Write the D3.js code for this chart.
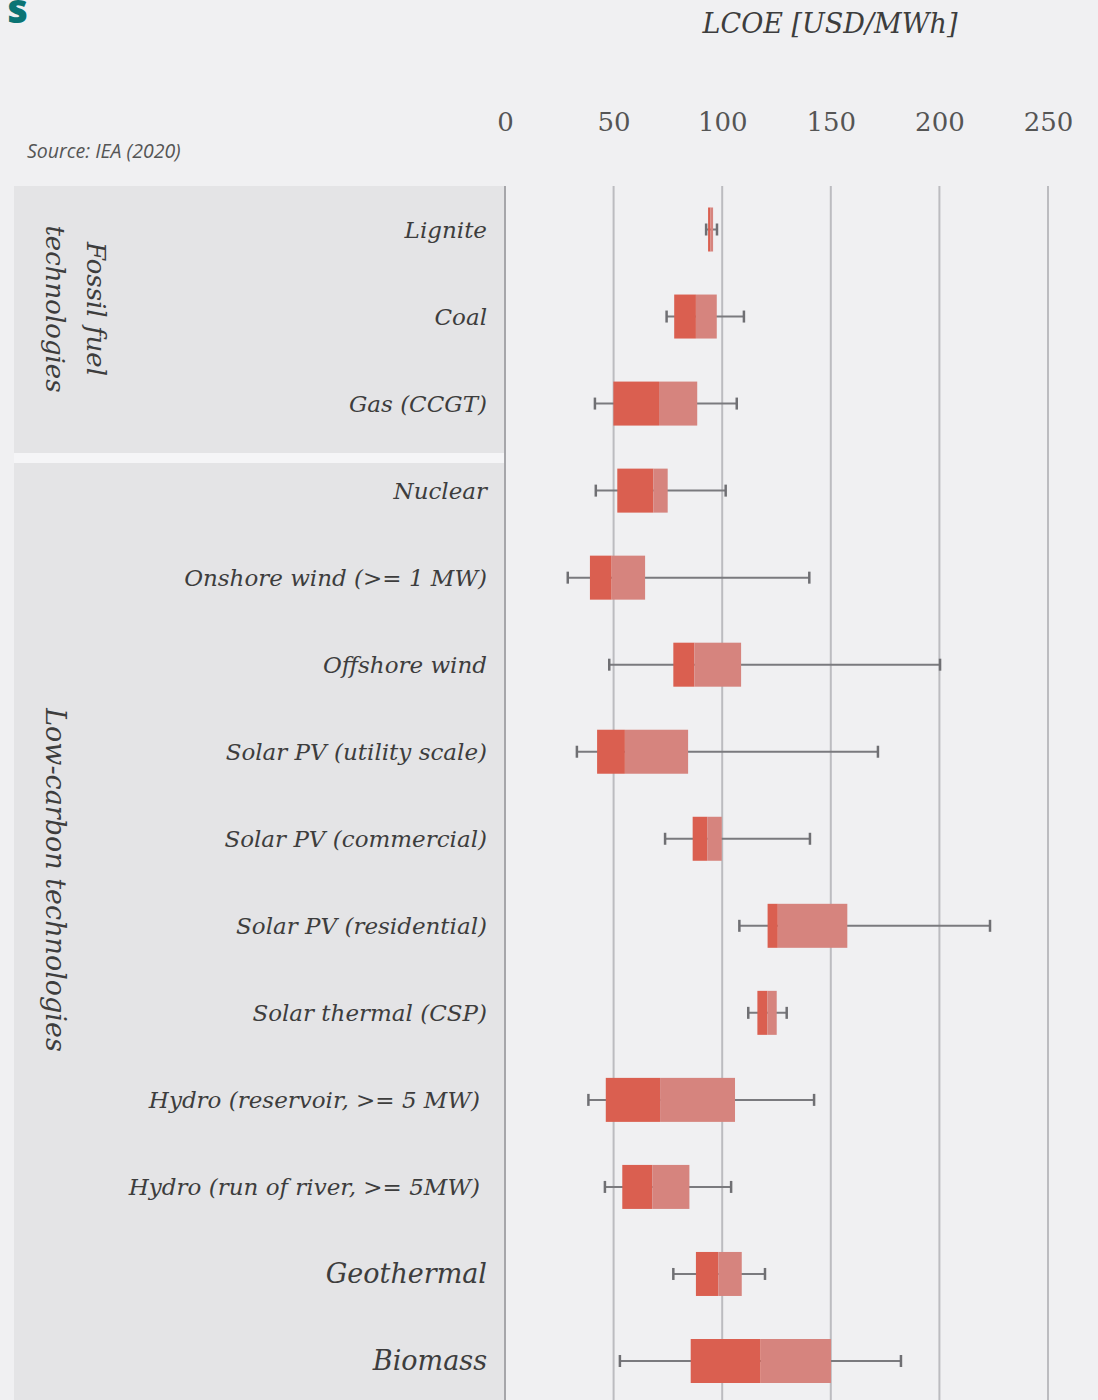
<!DOCTYPE html>
<html>
<head>
<meta charset="utf-8">
<script src="https://cdn.jsdelivr.net/npm/d3@7"></script>
<style>
  body { margin: 0; background: #f0f0f2; }
  svg { display: block; }
</style>
</head>
<body>
<div id="chart"></div>
<script>
// LCOE ranges by technology (IEA 2020)
const technologies = [
    'Lignite', 'Coal', 'Gas (CCGT)',
    'Nuclear', 'Onshore wind (>= 1 MW)', 'Offshore wind',
    'Solar PV (utility scale)', 'Solar PV (commercial)', 'Solar PV (residential)',
    'Solar thermal (CSP)', 'Hydro (reservoir, >= 5 MW)', 'Hydro (run of river, >= 5MW)',
    'Geothermal', 'Biomass'
];
const groups = ['fossil', 'fossil', 'fossil',
    'low', 'low', 'low', 'low', 'low', 'low', 'low', 'low', 'low', 'low', 'low'];
const minValues    = [92.6, 74.4, 41.4, 41.8, 28.9, 48.0, 33.1, 73.7, 107.9, 112.0, 38.4, 46.0, 77.5, 52.9];
const q1Values     = [93.5, 77.9, 49.9, 51.7, 39.1, 77.5, 42.4, 86.4, 120.9, 116.2, 46.4, 54.0, 87.9, 85.5];
const medianValues = [94.6, 87.9, 70.9, 68.3, 49.1, 87.2, 55.2, 93.1, 125.6, 120.8, 71.4, 67.8, 98.2, 117.7];
const q3Values     = [95.8, 97.5, 88.5, 74.9, 64.5, 108.7, 84.3, 99.8, 157.6, 125.1, 105.9, 84.9, 109.0, 150.1];
const maxValues    = [97.6, 110.0, 106.7, 101.6, 140.1, 200.3, 171.7, 140.4, 223.3, 129.7, 142.3, 104.1, 119.7, 182.3];
const tickValues = [0, 50, 100, 150, 200, 250];

const data = technologies.map((name, i) => ({
    name,
    group: groups[i],
    min: minValues[i], q1: q1Values[i], median: medianValues[i], q3: q3Values[i], max: maxValues[i]
}));

const W = 1098, H = 1400;
const serif = "'DejaVu Serif', Georgia, serif";
const textColor = '#3d3d3d';

const svg = d3.select('#chart').append('svg')
    .attr('width', W)
    .attr('height', H);

svg.append('rect').attr('width', W).attr('height', H).attr('fill', '#f0f0f2');

const x = d3.scaleLinear().domain([0, 250]).range([505, 1048]);
const y = d3.scalePoint().domain(technologies).range([229.5, 1361]);
const boxH = 44;

// grey panels behind the labels
const panelX = 14, panelW = 490;
svg.append('rect')
    .attr('x', panelX).attr('y', 186)
    .attr('width', panelW).attr('height', 267)
    .attr('fill', '#e4e4e6');
svg.append('rect')
    .attr('x', panelX).attr('y', 463)
    .attr('width', panelW).attr('height', H - 463)
    .attr('fill', '#e4e4e6');
svg.append('rect')
    .attr('x', panelX).attr('y', 453)
    .attr('width', panelW).attr('height', 10)
    .attr('fill', '#f5f5f7');

// cut-off title letter
svg.append('text')
    .attr('x', 28).attr('y', 23)
    .attr('text-anchor', 'end')
    .style('font-family', "'Open Sans', sans-serif")
    .style('font-weight', 800)
    .style('font-size', '40px')
    .style('fill', '#0b7474')
    .text('s');

svg.append('text')
    .attr('x', 27).attr('y', 158)
    .style('font-family', "'Open Sans', sans-serif")
    .style('font-style', 'italic')
    .style('font-size', '19.5px')
    .style('fill', '#555')
    .text('Source: IEA (2020)');

svg.append('text')
    .attr('x', 830).attr('y', 33)
    .attr('text-anchor', 'middle')
    .style('font-family', serif)
    .style('font-style', 'italic')
    .style('font-size', '27px')
    .style('fill', textColor)
    .text('LCOE [USD/MWh]');

// gridlines + top tick labels
const axis = d3.axisTop(x).tickValues(tickValues).tickSize(0).tickPadding(0);
const axisG = svg.append('g').attr('transform', 'translate(0,131)').call(axis);
axisG.select('.domain').remove();
axisG.selectAll('text')
    .style('font-family', serif)
    .style('font-size', '26px')
    .style('fill', '#555');

svg.append('g').selectAll('line')
    .data(tickValues)
    .join('line')
    .attr('x1', d => x(d)).attr('x2', d => x(d))
    .attr('y1', 186).attr('y2', H)
    .attr('stroke', d => d === 0 ? '#a6a6aa' : '#bcbcc0')
    .attr('stroke-width', 2);

// category labels
const bigLabels = { 'Geothermal': 27, 'Biomass': 27 };
svg.append('g').selectAll('text')
    .data(data)
    .join('text')
    .attr('x', d => d.name.startsWith('Hydro') ? 480 : 487)
    .attr('y', d => y(d.name))
    .attr('dy', '0.35em')
    .attr('text-anchor', 'end')
    .style('font-family', serif)
    .style('font-style', 'italic')
    .style('font-size', d => (bigLabels[d.name] || 23) + 'px')
    .style('fill', textColor)
    .text(d => d.name);

// group labels, rotated clockwise
const fossilG = svg.append('text')
    .attr('transform', 'translate(66,309) rotate(90)')
    .attr('text-anchor', 'middle')
    .style('font-family', serif)
    .style('font-style', 'italic')
    .style('font-size', '26px')
    .style('fill', textColor);
fossilG.append('tspan').attr('x', 0).attr('dy', -21).text('Fossil fuel');
fossilG.append('tspan').attr('x', 0).attr('dy', 41).text('technologies');

svg.append('text')
    .attr('transform', 'translate(46,880) rotate(90)')
    .attr('text-anchor', 'middle')
    .style('font-family', serif)
    .style('font-style', 'italic')
    .style('font-size', '27px')
    .style('fill', textColor)
    .text('Low-carbon technologies');

// box plots
const rows = svg.append('g').selectAll('g')
    .data(data)
    .join('g')
    .attr('transform', d => `translate(0,${y(d.name)})`);

rows.append('line')
    .attr('x1', d => x(d.min)).attr('x2', d => x(d.max))
    .attr('stroke', '#7a7a7e').attr('stroke-width', 2);

rows.selectAll('.cap')
    .data(d => [d.min, d.max])
    .join('line')
    .attr('class', 'cap')
    .attr('x1', v => x(v)).attr('x2', v => x(v))
    .attr('y1', -6).attr('y2', 6)
    .attr('stroke', '#6f6f73').attr('stroke-width', 2.5);

rows.append('rect')
    .attr('x', d => x(d.q1))
    .attr('y', -boxH / 2)
    .attr('width', d => x(d.median) - x(d.q1))
    .attr('height', boxH)
    .attr('fill', '#da5f50');

rows.append('rect')
    .attr('x', d => x(d.median))
    .attr('y', -boxH / 2)
    .attr('width', d => x(d.q3) - x(d.median))
    .attr('height', boxH)
    .attr('fill', '#d6847e');
</script>
</body>
</html>
